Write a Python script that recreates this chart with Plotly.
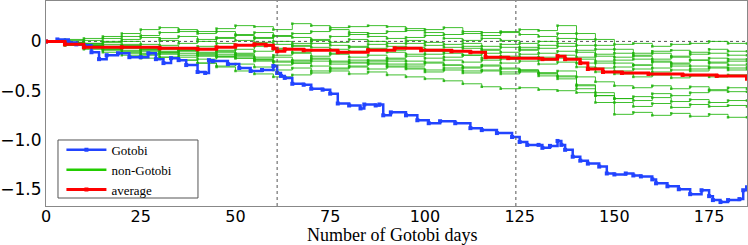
import plotly.graph_objects as go

# ---- data ----
green_days = list(range(0, 186, 5))
non_gotobi = [
    [0, 0.02, 0.03, 0.05, 0.08, 0.12, 0.14, 0.12, 0.10, 0.13, 0.16, 0.15, 0.12, 0.18, 0.16, 0.14, 0.15, 0.16, 0.15, 0.13, 0.12, 0.14, 0.10, 0.09, 0.10, 0.12, 0.11, 0.16, 0.08, 0.02, -0.03, -0.02, -0.05, -0.03, -0.02, 0.00, -0.02, -0.02],
    [0, -0.01, 0.01, 0.03, 0.05, 0.06, 0.09, 0.10, 0.08, 0.10, 0.07, 0.09, 0.06, 0.08, 0.10, 0.12, 0.09, 0.08, 0.10, 0.11, 0.09, 0.07, 0.08, 0.06, 0.09, 0.07, 0.05, 0.08, 0.02, -0.04, -0.08, -0.12, -0.10, -0.09, -0.11, -0.08, -0.10, -0.10],
    [0, 0.01, -0.02, 0.00, 0.02, 0.04, 0.03, 0.05, 0.02, 0.04, 0.06, 0.03, 0.05, 0.04, 0.02, 0.05, 0.07, 0.05, 0.03, 0.04, 0.06, 0.03, 0.01, 0.03, 0.01, -0.02, 0.00, 0.03, -0.04, -0.08, -0.12, -0.14, -0.12, -0.15, -0.13, -0.12, -0.14, -0.14],
    [0, -0.02, -0.04, -0.01, 0.00, -0.03, 0.01, -0.02, 0.00, 0.03, 0.01, 0.04, 0.00, -0.02, 0.01, -0.01, 0.02, 0.00, -0.02, 0.01, -0.01, -0.03, -0.02, -0.05, -0.03, -0.06, -0.04, -0.02, -0.09, -0.13, -0.16, -0.15, -0.18, -0.16, -0.19, -0.17, -0.18, -0.18],
    [0, -0.03, -0.02, -0.05, -0.03, -0.06, -0.04, -0.07, -0.05, -0.02, -0.04, -0.01, -0.03, -0.05, -0.02, -0.04, -0.06, -0.03, -0.05, -0.02, -0.04, -0.06, -0.05, -0.08, -0.06, -0.08, -0.07, -0.05, -0.11, -0.15, -0.19, -0.18, -0.20, -0.22, -0.19, -0.21, -0.20, -0.20],
    [0, -0.01, -0.04, -0.06, -0.05, -0.08, -0.06, -0.09, -0.07, -0.10, -0.08, -0.05, -0.07, -0.04, -0.06, -0.08, -0.05, -0.07, -0.09, -0.06, -0.08, -0.10, -0.07, -0.09, -0.11, -0.09, -0.12, -0.10, -0.16, -0.20, -0.22, -0.24, -0.21, -0.23, -0.25, -0.22, -0.24, -0.23],
    [0, -0.04, -0.07, -0.05, -0.09, -0.07, -0.10, -0.08, -0.11, -0.09, -0.12, -0.10, -0.08, -0.11, -0.09, -0.12, -0.10, -0.08, -0.11, -0.13, -0.10, -0.12, -0.14, -0.12, -0.15, -0.13, -0.16, -0.14, -0.18, -0.22, -0.26, -0.24, -0.27, -0.25, -0.28, -0.26, -0.27, -0.26],
    [0, -0.03, -0.05, -0.08, -0.10, -0.12, -0.11, -0.14, -0.12, -0.15, -0.13, -0.16, -0.14, -0.12, -0.15, -0.13, -0.16, -0.14, -0.17, -0.15, -0.13, -0.16, -0.14, -0.17, -0.18, -0.16, -0.19, -0.17, -0.22, -0.27, -0.30, -0.28, -0.31, -0.29, -0.30, -0.27, -0.29, -0.28],
    [0, -0.02, -0.06, -0.09, -0.12, -0.14, -0.13, -0.16, -0.18, -0.15, -0.17, -0.19, -0.20, -0.22, -0.20, -0.23, -0.21, -0.19, -0.18, -0.20, -0.17, -0.19, -0.21, -0.19, -0.22, -0.20, -0.23, -0.21, -0.26, -0.31, -0.33, -0.36, -0.34, -0.37, -0.35, -0.36, -0.34, -0.35],
    [0, -0.03, -0.06, -0.08, -0.11, -0.13, -0.16, -0.19, -0.22, -0.25, -0.23, -0.26, -0.29, -0.27, -0.30, -0.28, -0.26, -0.28, -0.25, -0.27, -0.29, -0.27, -0.30, -0.29, -0.31, -0.29, -0.32, -0.30, -0.36, -0.41, -0.45, -0.47, -0.45, -0.48, -0.46, -0.49, -0.47, -0.48],
    [0, -0.04, -0.08, -0.11, -0.14, -0.17, -0.16, -0.19, -0.22, -0.26, -0.30, -0.33, -0.36, -0.34, -0.32, -0.30, -0.33, -0.31, -0.34, -0.36, -0.38, -0.40, -0.43, -0.46, -0.48, -0.47, -0.49, -0.50, -0.52, -0.55, -0.58, -0.56, -0.53, -0.55, -0.52, -0.50, -0.51, -0.51],
    [0, -0.02, -0.05, -0.03, -0.07, -0.10, -0.08, -0.12, -0.15, -0.13, -0.17, -0.20, -0.24, -0.22, -0.25, -0.27, -0.25, -0.23, -0.26, -0.28, -0.31, -0.29, -0.32, -0.30, -0.33, -0.31, -0.35, -0.38, -0.44, -0.52, -0.58, -0.60, -0.57, -0.61, -0.59, -0.62, -0.60, -0.60],
    [0, -0.01, -0.03, -0.06, -0.04, -0.08, -0.11, -0.09, -0.13, -0.16, -0.14, -0.18, -0.21, -0.19, -0.17, -0.20, -0.22, -0.20, -0.23, -0.25, -0.22, -0.24, -0.27, -0.25, -0.28, -0.30, -0.33, -0.36, -0.45, -0.55, -0.62, -0.66, -0.63, -0.67, -0.64, -0.66, -0.65, -0.66],
    [0, -0.02, -0.04, -0.07, -0.05, -0.09, -0.12, -0.10, -0.14, -0.11, -0.15, -0.18, -0.16, -0.20, -0.18, -0.21, -0.19, -0.22, -0.20, -0.23, -0.21, -0.24, -0.26, -0.24, -0.27, -0.29, -0.32, -0.35, -0.48, -0.62, -0.74, -0.72, -0.75, -0.73, -0.76, -0.74, -0.77, -0.77],
]

gotobi_days = [0, 3, 6, 8, 10, 12, 14, 16, 19, 22, 25, 27, 29, 31, 33, 35, 37, 40, 42, 43, 44, 48, 51, 54, 57, 60,
               61, 62, 63, 65, 68, 70, 73, 75, 77, 80, 83, 84, 87, 88, 89, 91, 95, 98, 101, 104, 108, 112, 115, 119,
               123, 125, 127, 130, 131, 133, 135, 136, 137, 139, 141, 143, 146, 148, 150, 153, 155, 157, 160, 161,
               164, 167, 170, 173, 175, 176, 178, 180, 183, 184, 185]
gotobi = [0, 0.02, -0.01, -0.03, -0.04, -0.11, -0.18, -0.14, -0.12, -0.16, -0.16, -0.12, -0.18, -0.22, -0.17, -0.19, -0.24,
          -0.31, -0.32, -0.19, -0.20, -0.23, -0.27, -0.30, -0.29, -0.25,
          -0.32, -0.35, -0.37, -0.43, -0.44, -0.48, -0.49, -0.53, -0.63, -0.65, -0.68, -0.64, -0.65, -0.64, -0.75, -0.72,
          -0.75, -0.80, -0.83, -0.81, -0.83, -0.88, -0.90, -0.93,
          -0.97, -1.02, -1.05, -1.05, -1.08, -1.06, -1.01, -1.05, -1.10, -1.17, -1.21, -1.24, -1.27, -1.34, -1.35, -1.34,
          -1.36, -1.37, -1.40, -1.44, -1.47, -1.50, -1.55, -1.51, -1.57, -1.61, -1.63, -1.61, -1.60, -1.51, -1.48]

avg_days = [0, 5, 10, 20, 30, 40, 45, 50, 55, 58, 60, 61, 63, 68, 77, 85, 92, 99, 107, 112, 116, 122, 131, 135, 137,
            141, 143, 147, 152, 159, 168, 177, 185]
average = [0, -0.03, -0.06, -0.06, -0.07, -0.08, -0.06, -0.04, -0.03, -0.04, -0.07, -0.10, -0.08, -0.09, -0.11, -0.09,
           -0.07, -0.09, -0.10, -0.11, -0.16, -0.17, -0.18, -0.15, -0.18, -0.22, -0.28, -0.31, -0.32, -0.33, -0.34,
           -0.35, -0.38]

vlines = [61, 124]
x_ticks = [0, 25, 50, 75, 100, 125, 150, 175]
y_ticks = [0, -0.5, -1.0, -1.5]
y_tick_text = ["0", "\u22120.5", "\u22121.0", "\u22121.5"]
x_title = "Number of Gotobi days"

GREEN = "rgba(30,180,10,0.85)"
BLUE = "#2244ff"
RED = "#ff0000"

fig = go.Figure()
for i, s in enumerate(non_gotobi):
    fig.add_trace(go.Scatter(
        x=green_days, y=s, mode="lines+markers", line=dict(color=GREEN, width=1, shape="hv"),
        marker=dict(size=2.5, symbol="square", color=GREEN),
        name="non-Gotobi", showlegend=False, legendgroup="ng"))
fig.add_trace(go.Scatter(
    x=gotobi_days, y=gotobi, mode="lines+markers", line=dict(color=BLUE, width=2.5, shape="hv"),
    marker=dict(size=4, symbol="square", color=BLUE), name="Gotobi", legendrank=1))
fig.add_trace(go.Scatter(
    x=[None], y=[None], mode="lines", line=dict(color="#22cc00", width=2.5),
    name="non-Gotobi", legendrank=2))
fig.add_trace(go.Scatter(
    x=avg_days, y=average, mode="lines+markers", line=dict(color=RED, width=3, shape="hv"),
    marker=dict(size=4, symbol="square", color=RED), name="average", legendrank=3))

for v in vlines:
    fig.add_shape(type="line", x0=v, x1=v, y0=0, y1=1, xref="x", yref="paper",
                  line=dict(color="#555555", width=1, dash="dot"), layer="above")
fig.add_shape(type="line", x0=0, x1=1, y0=0, y1=0, xref="paper", yref="y",
              line=dict(color="#555555", width=1, dash="dot"), layer="below")
# legend frame
fig.add_shape(type="rect", xref="paper", yref="paper", x0=0.0171, x1=0.2168, y0=0.039, y1=0.322,
              fillcolor="white", line=dict(color="#555555", width=1), layer="above")

fig.add_annotation(text=x_title, xref="paper", yref="paper", x=0.494, y=0, xanchor="center", yanchor="top",
                   yshift=-17, showarrow=False, font=dict(family="Liberation Serif", size=18, color="black"))

fig.update_layout(
    width=748, height=245,
    margin=dict(l=46, r=1, t=1, b=39, autoexpand=False),
    paper_bgcolor="white", plot_bgcolor="white",
    font=dict(family="DejaVu Sans", size=16, color="black"),
    showlegend=True,
    legend=dict(
        x=0.022, y=0.347, xanchor="left", yanchor="top",
        bgcolor="rgba(0,0,0,0)", borderwidth=0,
        font=dict(family="Liberation Serif", size=13, color="black"),
        traceorder="normal", itemwidth=40, tracegroupgap=0,
    ),
    xaxis=dict(
        range=[0, 185], tickvals=x_ticks, showgrid=False, zeroline=False, automargin=False,
        showline=True, linecolor="#888888", linewidth=1, mirror=True,
        ticks="", ticklen=0, tickfont=dict(family="DejaVu Sans", size=16),
        ticklabelstandoff=-4,
    ),
    yaxis=dict(
        range=[-1.67, 0.41], tickvals=y_ticks, ticktext=y_tick_text, showgrid=False, zeroline=False,
        automargin=False,
        showline=True, linecolor="#888888", linewidth=1, mirror=True,
        ticks="", ticklen=0, tickfont=dict(family="DejaVu Sans", size=17),
    ),
)

fig.write_html("out.html", config={"displayModeBar": False},
               post_script="document.body.style.margin='0';document.body.style.padding='0';")
